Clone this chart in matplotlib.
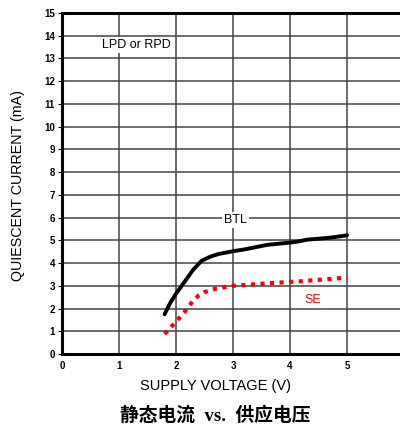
import matplotlib
matplotlib.use("Agg")
import matplotlib.pyplot as plt

# Quiescent current vs. supply voltage
btl_v = [1.80, 1.90, 2.00, 2.10, 2.20, 2.30, 2.45, 2.60, 2.75, 3.00, 3.20, 3.40, 3.60, 3.80, 4.00, 4.15, 4.30, 4.50, 4.75, 5.00]
btl_i = [1.75, 2.25, 2.65, 3.00, 3.35, 3.70, 4.10, 4.28, 4.40, 4.52, 4.60, 4.70, 4.80, 4.85, 4.90, 4.95, 5.03, 5.07, 5.13, 5.22]
se_v = [1.80, 1.90, 2.00, 2.10, 2.20, 2.30, 2.40, 2.50, 2.70, 3.00, 3.40, 3.80, 4.20, 4.60, 5.00]
se_i = [0.88, 1.15, 1.42, 1.70, 2.00, 2.35, 2.58, 2.72, 2.88, 3.00, 3.07, 3.14, 3.20, 3.28, 3.36]

x_ticks = [0, 1, 2, 3, 4, 5, 6]
x_tick_labels = ["0", "1", "2", "3", "4", "5", ""]
y_ticks = list(range(0, 16))

fig = plt.figure(figsize=(4.0, 4.32), dpi=100)
ax = fig.add_axes([0.155, 0.1806, 0.855, 0.7893])

ax.set_xlim(0, 6)
ax.set_ylim(0, 15)
ax.set_xticks(x_ticks)
ax.set_yticks(y_ticks)
ax.grid(True, color="#444444", linewidth=1.1)
ax.set_axisbelow(True)

for side in ("left", "bottom", "top"):
    ax.spines[side].set_linewidth(2.2)
    ax.spines[side].set_color("black")
ax.spines["right"].set_visible(False)

tick_font = dict(family="Liberation Sans", size=7, weight="bold")
ax.set_xticklabels(x_tick_labels, **tick_font)
ax.set_yticklabels([str(v) for v in y_ticks], **tick_font)
ax.tick_params(axis="y", direction="out", length=3, width=0.8, pad=2)
ax.tick_params(axis="x", length=0, pad=5)

ax.plot(btl_v, btl_i, color="black", linewidth=2.8, solid_capstyle="round")
ax.plot(se_v, se_i, color="#ff0000", linewidth=3.0, linestyle=(0, (1, 1.3)))

label_font = dict(family="Liberation Sans", size=9)
ax.text(1.3, 13.6, "LPD or RPD", ha="center", va="center", **label_font,
        bbox=dict(facecolor="white", edgecolor="none", pad=1.5))
ax.text(3.05, 5.9, "BTL", ha="center", va="center", **label_font,
        bbox=dict(facecolor="white", edgecolor="none", pad=1.5))
ax.text(4.4, 2.38, "SE", ha="center", va="center", color="#ff0000", **label_font,
        bbox=dict(facecolor="white", edgecolor="none", pad=1.5))

fig.text(0.045, 0.571, "QUIESCENT CURRENT (mA)", rotation=90, ha="center", va="center",
         family="Liberation Sans", size=10.3)
fig.text(0.54, 0.106, "SUPPLY VOLTAGE (V)", ha="center", va="center",
         family="Liberation Sans", size=10.5)
fig.text(0.5375, 0.038, "静态电流  vs.  供应电压", ha="center", va="center",
         family=["Liberation Serif", "Noto Sans CJK SC"], size=13.5, weight="bold")

fig.savefig("out.png", dpi=100)
